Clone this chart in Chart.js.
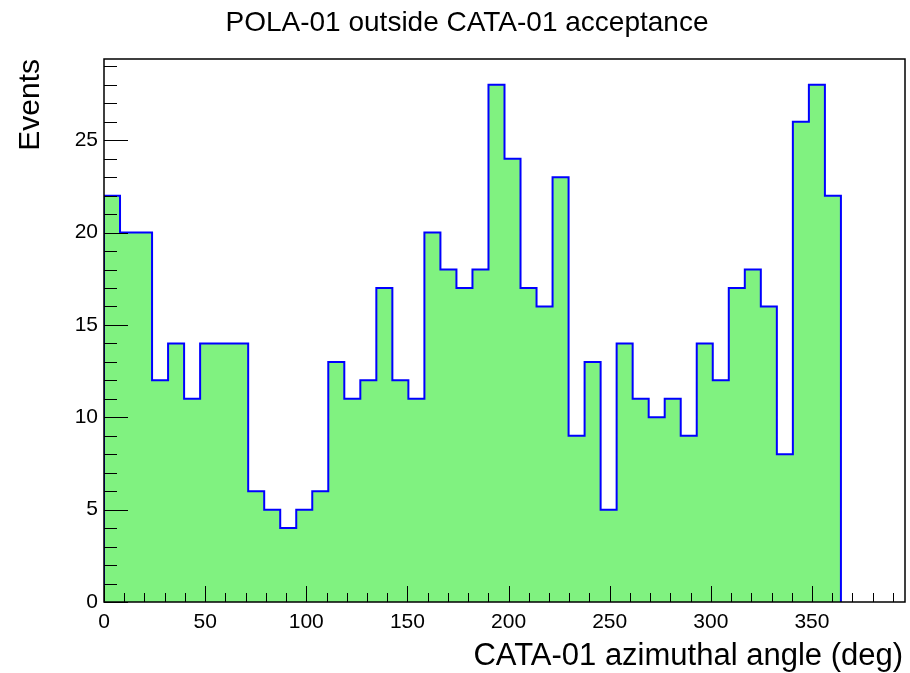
<!DOCTYPE html>
<html>
<head>
<meta charset="utf-8">
<script src="https://cdn.jsdelivr.net/npm/chart.js@4.4.1/dist/chart.umd.min.js"></script>
<style>
  body { margin: 0; background: #fff; }
  #wrap { width: 910px; height: 673px; }
</style>
</head>
<body>
<div id="wrap"><canvas id="hist" width="910" height="673"></canvas></div>
<script>
// histogram content, one count per bin starting at 0 deg
const binWidth = 7.92;
const counts = [22, 20, 20, 12, 14, 11, 14, 14, 14, 6, 5, 4, 5, 6, 13, 11, 12, 17, 12, 11,
                20, 18, 17, 18, 28, 24, 17, 16, 23, 9, 13, 5, 14, 11, 10, 11, 9, 14, 12, 17,
                18, 16, 8, 26, 28, 22];
const xTicks = [0, 50, 100, 150, 200, 250, 300, 350];
const yTicks = [0, 5, 10, 15, 20, 25];
const xRange = [0, 396];
const yRange = [0, 29.4];

const titleText = "POLA-01 outside CATA-01 acceptance";
const xTitle = "CATA-01 azimuthal angle (deg)";
const yTitle = "Events";
const font = "'Liberation Sans', Arial, Helvetica, sans-serif";

// step outline points: left edge of every bin, then close back to zero
const points = [{ x: 0, y: 0 }];
counts.forEach((c, i) => points.push({ x: i * binWidth, y: c }));
points.push({ x: counts.length * binWidth, y: 0 });

const frameAndTicks = {
    id: 'frameAndTicks',
    afterDatasetsDraw(chart) {
        const { ctx, chartArea: a, scales } = chart;
        const xs = scales.x, ys = scales.y;
        ctx.save();
        ctx.strokeStyle = '#000';
        ctx.lineWidth = 1;
        ctx.beginPath();
        for (let v = 0; v <= 29; v++) {
            const py = Math.round(ys.getPixelForValue(v)) + 0.5;
            const len = v % 5 === 0 ? 24 : 13;
            ctx.moveTo(a.left, py);
            ctx.lineTo(a.left + len, py);
        }
        for (let v = 0; v <= 390; v += 10) {
            const px = Math.round(xs.getPixelForValue(v)) + 0.5;
            const len = v % 50 === 0 ? 16 : 9;
            ctx.moveTo(px, a.bottom);
            ctx.lineTo(px, a.bottom - len);
        }
        ctx.stroke();
        ctx.lineWidth = 1.5;
        ctx.strokeRect(a.left, a.top, a.right - a.left, a.bottom - a.top);
        ctx.restore();
    },
    afterDraw(chart) {
        const { ctx, chartArea: a } = chart;
        ctx.save();
        ctx.fillStyle = '#000';
        ctx.textBaseline = 'middle';
        ctx.font = '28px ' + font;
        ctx.textAlign = 'center';
        ctx.fillText(titleText, 467, 23);
        ctx.font = '31px ' + font;
        ctx.textAlign = 'right';
        ctx.fillText(xTitle, a.right - 2, 656);
        ctx.translate(31, a.top);
        ctx.rotate(-Math.PI / 2);
        ctx.font = '30px ' + font;
        ctx.textAlign = 'right';
        ctx.fillText(yTitle, 0, 0);
        ctx.restore();
    }
};

const chart = new Chart(document.getElementById('hist'), {
    type: 'line',
    data: {
        datasets: [{
            data: points,
            stepped: true,
            fill: 'origin',
            backgroundColor: 'rgb(128,242,128)',
            borderColor: '#0000ff',
            borderWidth: 2,
            pointRadius: 0,
            tension: 0
        }]
    },
    options: {
        responsive: false,
        animation: false,
        layout: { padding: { top: 59, right: 5, left: 0, bottom: 0 } },
        plugins: { legend: { display: false }, tooltip: { enabled: false }, title: { display: false } },
        scales: {
            x: {
                type: 'linear',
                min: xRange[0],
                max: xRange[1],
                afterFit: s => { s.height = 71; },
                afterBuildTicks: s => { s.ticks = xTicks.map(v => ({ value: v })); },
                grid: { display: false, drawTicks: false },
                border: { display: false },
                ticks: { color: '#000', padding: 8, maxRotation: 0, autoSkip: false, font: { family: font, size: 21 } }
            },
            y: {
                min: yRange[0],
                max: yRange[1],
                afterFit: s => { s.width = 104; },
                afterBuildTicks: s => { s.ticks = yTicks.map(v => ({ value: v })); },
                grid: { display: false, drawTicks: false },
                border: { display: false },
                ticks: { color: '#000', padding: 6, font: { family: font, size: 21 } }
            }
        }
    },
    plugins: [frameAndTicks]
});
</script>
</body>
</html>
